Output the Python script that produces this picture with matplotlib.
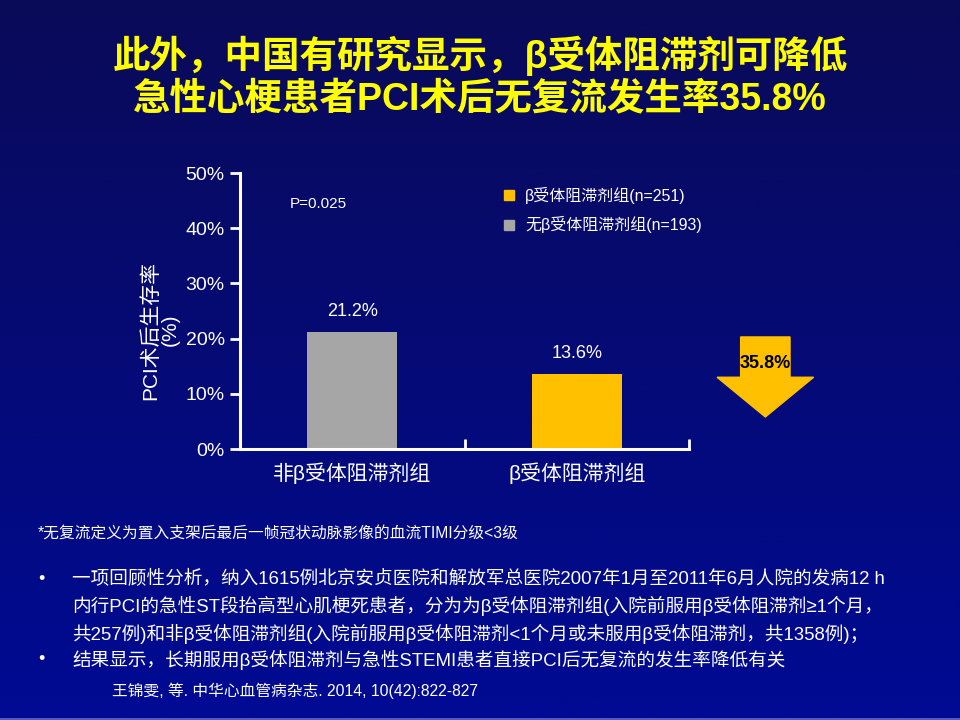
import numpy as np
import matplotlib
matplotlib.use("Agg")
import matplotlib.pyplot as plt
from matplotlib.patches import Polygon

plt.rcParams['font.family'] = ['Liberation Sans', 'Noto Sans CJK SC', 'DejaVu Sans']

# data
categories = ["非β受体阻滞剂组", "β受体阻滞剂组"]
rates = [21.2, 13.6]
bar_colors = ["#a6a6a6", "#ffc000"]
legend_labels = ["β受体阻滞剂组(n=251)", "无β受体阻滞剂组(n=193)"]
yticks = [0, 10, 20, 30, 40, 50]
reduction = "35.8%"
p_value = "P=0.025"

title_lines = ["此外，中国有研究显示，β受体阻滞剂可降低",
               "急性心梗患者PCI术后无复流发生率35.8%"]
footnote = "*无复流定义为置入支架后最后一帧冠状动脉影像的血流TIMI分级<3级"
bullets = [
    "一项回顾性分析，纳入1615例北京安贞医院和解放军总医院2007年1月至2011年6月人院的发病12 h\n"
    "内行PCI的急性ST段抬高型心肌梗死患者，分为为β受体阻滞剂组(入院前服用β受体阻滞剂≥1个月，\n"
    "共257例)和非β受体阻滞剂组(入院前服用β受体阻滞剂<1个月或未服用β受体阻滞剂，共1358例)；",
    "结果显示，长期服用β受体阻滞剂与急性STEMI患者直接PCI后无复流的发生率降低有关",
]
citation = "王锦雯, 等. 中华心血管病杂志. 2014, 10(42):822-827"

fig = plt.figure(figsize=(9.6, 7.2), dpi=100)

# background gradient
bg = fig.add_axes([0, 0, 1, 1])
top = np.array([0x0a, 0x0a, 0x58]) / 255
bot = np.array([0x00, 0x0a, 0x94]) / 255
t = np.linspace(0, 1, 256)[:, None]
grad = top + (bot - top) * t
bg.imshow(grad[:, None, :], aspect='auto', extent=[0, 1, 0, 1])
bg.set_xlim(0, 1)
bg.set_ylim(0, 1)
bg.axhline(0.001, color="#6a6ac8", lw=1.2)
bg.axis('off')

# title
fig.text(0.5, 1 - 56 / 720, title_lines[0], color="#ffff00", fontsize=27,
         fontweight='heavy', ha='center', va='center')
fig.text(0.5, 1 - 99 / 720, title_lines[1], color="#ffff00", fontsize=27,
         fontweight='heavy', ha='center', va='center')

# chart
ax = fig.add_axes([240 / 960, 1 - 449 / 720, (689 - 240) / 960, (449 - 173) / 720])
ax.set_facecolor('none')
x = np.arange(len(categories))
ax.bar(x, rates, width=0.4, color=bar_colors, zorder=2)
for xi, v in zip(x, rates):
    ax.text(xi, v + 2.2, f"{v}%", color='white', fontsize=13, ha='center', va='bottom')

ax.set_xlim(-0.5, 1.5)
ax.set_ylim(0, 50)
ax.set_yticks(yticks)
ax.set_yticklabels([f"{v}%" for v in yticks], fontsize=14, color='white')
ax.set_xticks(x)
ax.set_xticklabels(categories, fontsize=15, color='white')
ax.set_xticks([0.5, 1.5], minor=True)
ax.tick_params(axis='x', which='major', length=0, pad=10)
ax.tick_params(axis='x', which='minor', direction='in', length=7, width=2, color='white')
ax.tick_params(axis='y', direction='out', length=7, width=2, color='white', pad=4)
for s in ['top', 'right']:
    ax.spines[s].set_visible(False)
for s in ['left', 'bottom']:
    ax.spines[s].set_color('white')
    ax.spines[s].set_linewidth(2.2)

ax.text(-0.28, 44.3, p_value, color='white', fontsize=11, va='center')

# legend squares
for i, (lab, col) in enumerate(zip(legend_labels, [bar_colors[1], bar_colors[0]])):
    yy = 46.0 - i * 5.4
    ax.plot([0.70], [yy], marker='s', markersize=7, color=col, clip_on=False)
    ax.text(0.77, yy, lab, color='white', fontsize=11.5, va='center')

fig.text(160 / 960, 1 - 330 / 720, "PCI术后生存率\n(%)", color='white', fontsize=15,
         rotation=90, ha='center', va='center', multialignment='center', linespacing=1.0)

# reduction arrow (data coords)
ax_c, half_w, shaft_w = 1.84, 0.215, 0.11
y_top, y_head, y_tip = 20.3, 13.0, 5.8
arrow = Polygon([[ax_c - shaft_w, y_top], [ax_c + shaft_w, y_top], [ax_c + shaft_w, y_head],
                 [ax_c + half_w, y_head], [ax_c, y_tip], [ax_c - half_w, y_head],
                 [ax_c - shaft_w, y_head]], closed=True, color="#ffc000", clip_on=False)
ax.add_patch(arrow)
ax.text(ax_c, 15.5, reduction, color='black', fontsize=13, fontweight='bold',
        ha='center', va='center')

# footnote and bullets
fig.text(38 / 960, 1 - 533 / 720, footnote, color='white', fontsize=11.3, va='center')
fig.text(38 / 960, 1 - 579 / 720, "•", color='white', fontsize=13, va='center')
fig.text(72 / 960, 1 - 570 / 720, bullets[0], color='white', fontsize=13.4, va='top',
         linespacing=1.5)
fig.text(38 / 960, 1 - 659 / 720, "•", color='white', fontsize=13, va='center')
fig.text(72 / 960, 1 - 660 / 720, bullets[1], color='white', fontsize=13.4, va='center')
fig.text(112 / 960, 1 - 691 / 720, citation, color='white', fontsize=11.3, va='center')

fig.savefig("out.png", dpi=100)
